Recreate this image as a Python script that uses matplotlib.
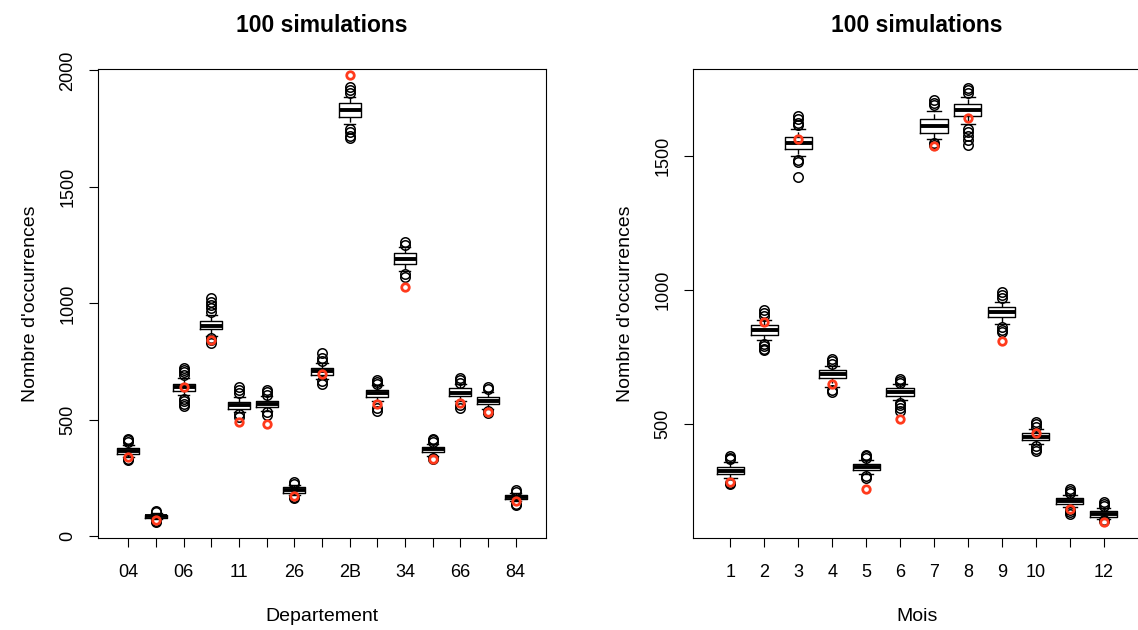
import matplotlib
matplotlib.use('Agg')
from matplotlib import pyplot as plt

plt.rcParams['font.family'] = ['Liberation Sans', 'DejaVu Sans']

# --- left panel : per departement ---
dep = ['04', '05', '06', '07', '11', '13', '26', '2A', '2B', '30', '34', '48', '66', '83', '84']
dep_med = [366, 86, 640, 905, 563, 568, 198, 711, 1832, 617, 1191, 373, 617, 582, 169]
dep_q1 = [352, 80, 625, 888, 548, 555, 185, 694, 1802, 600, 1170, 360, 601, 566, 160]
dep_q3 = [378, 93, 656, 925, 576, 583, 210, 724, 1860, 630, 1215, 384, 635, 598, 178]
dep_wlo = [340, 74, 605, 862, 535, 540, 178, 675, 1770, 580, 1140, 345, 580, 548, 150]
dep_whi = [394, 99, 678, 950, 600, 603, 220, 742, 1885, 648, 1240, 398, 652, 620, 186]
dep_fliers = [
  [405, 412, 418, 333, 328],
  [103, 108, 66, 62],
  [692, 705, 715, 722, 590, 580, 568, 558],
  [965, 980, 995, 1008, 1025, 850, 842, 832],
  [615, 628, 640, 525, 512],
  [608, 618, 628, 532, 522],
  [226, 234, 170, 166],
  [752, 765, 785, 665, 655],
  [1905, 1918, 1930, 1748, 1735, 1720, 1708],
  [655, 664, 672, 552, 540],
  [1250, 1262, 1125, 1115],
  [405, 412, 418, 336, 330],
  [660, 670, 680, 562, 553],
  [632, 642, 538, 530],
  [192, 198, 140, 136],
]
dep_obs = [341, 69, 643, 843, 490, 482, 172, 697, 1981, 568, 1070, 333, 572, 535, 150]

# --- right panel : per month ---
mois = ['1', '2', '3', '4', '5', '6', '7', '8', '9', '10', '11', '12']
mois_med = [326, 851, 1550, 686, 341, 620, 1612, 1672, 917, 453, 213, 164]
mois_q1 = [314, 832, 1527, 671, 327, 603, 1586, 1649, 899, 439, 201, 155]
mois_q3 = [340, 868, 1573, 703, 352, 636, 1640, 1693, 937, 465, 224, 174]
mois_wlo = [300, 812, 1500, 640, 315, 590, 1565, 1620, 875, 425, 190, 145]
mois_whi = [358, 890, 1600, 715, 365, 650, 1670, 1720, 955, 480, 236, 186]
mois_fliers = [
  [368, 374, 380, 282, 277],
  [905, 915, 925, 800, 790, 782, 775],
  [1615, 1625, 1638, 1650, 1485, 1478, 1423],
  [725, 735, 742, 628, 620],
  [372, 380, 386, 305, 298],
  [655, 662, 668, 580, 570, 560, 548],
  [1690, 1700, 1710, 1550, 1543],
  [1735, 1745, 1755, 1600, 1590, 1575, 1560, 1541],
  [970, 982, 994, 862, 852, 845],
  [490, 500, 508, 418, 408, 398],
  [242, 250, 256, 180, 172, 166],
  [195, 203, 210, 142, 138],
]
mois_obs = [285, 882, 1562, 649, 257, 519, 1537, 1644, 811, 468, 183, 136]

RED = '#ff3a1c'


def draw_panel(ax, names, med, q1, q3, wlo, whi, fliers, obs, shown, xlabel):
  stats = []
  for i in range(len(names)):
    stats.append(dict(med=med[i], q1=q1[i], q3=q3[i], whislo=wlo[i], whishi=whi[i], fliers=fliers[i]))
  pos = list(range(1, len(names) + 1))
  ax.bxp(stats, positions=pos, widths=0.8,
         boxprops=dict(color='black', lw=1.0),
         whiskerprops=dict(color='black', lw=1.0, ls='--'),
         capprops=dict(color='black', lw=1.0),
         medianprops=dict(color='black', lw=2.8),
         flierprops=dict(marker='o', mfc='none', mec='black', ms=6.8, mew=1.1))
  ax.plot(pos, obs, 'o', mfc='none', mec=RED, ms=5.4, mew=2.0, zorder=5)

  ax.set_xticks(pos)
  ax.set_xticklabels([n if n in shown else '' for n in names])
  ax.set_xlim(pos[0] - 1.1, pos[-1] + 1.1)
  ax.tick_params(axis='both', direction='out', length=6.5, width=0.8, labelsize=13)
  ax.tick_params(axis='x', pad=12)
  ax.tick_params(axis='y', pad=9)
  for lab in ax.get_yticklabels():
    lab.set_rotation(90)
    lab.set_va('center')
  for s in ax.spines.values():
    s.set_linewidth(0.8)
  ax.set_title('100 simulations', fontsize=16.5, fontweight='bold', pad=27)
  ax.set_xlabel(xlabel, fontsize=14)
  ax.set_ylabel("Nombre d'occurrences", fontsize=14)
  ax.xaxis.set_label_coords(0.5, -0.149)
  ax.yaxis.set_label_coords(-0.132, 0.5)


fig = plt.figure(figsize=(11.38, 6.3), dpi=100)

ax1 = fig.add_axes([98 / 1138, 92 / 630, 448 / 1138, 469 / 630])
ax1.set_yticks([0, 500, 1000, 1500, 2000])
ax1.set_ylim(-7, 2006)
draw_panel(ax1, dep, dep_med, dep_q1, dep_q3, dep_wlo, dep_whi, dep_fliers, dep_obs,
           dep[::2], 'Departement')

ax2 = fig.add_axes([693 / 1138, 92 / 630, 448 / 1138, 469 / 630])
ax2.set_yticks([500, 1000, 1500])
ax2.set_ylim(75, 1825)
draw_panel(ax2, mois, mois_med, mois_q1, mois_q3, mois_wlo, mois_whi, mois_fliers, mois_obs,
           [m for m in mois if m != '11'], 'Mois')

plt.savefig('out.png', dpi=100)
